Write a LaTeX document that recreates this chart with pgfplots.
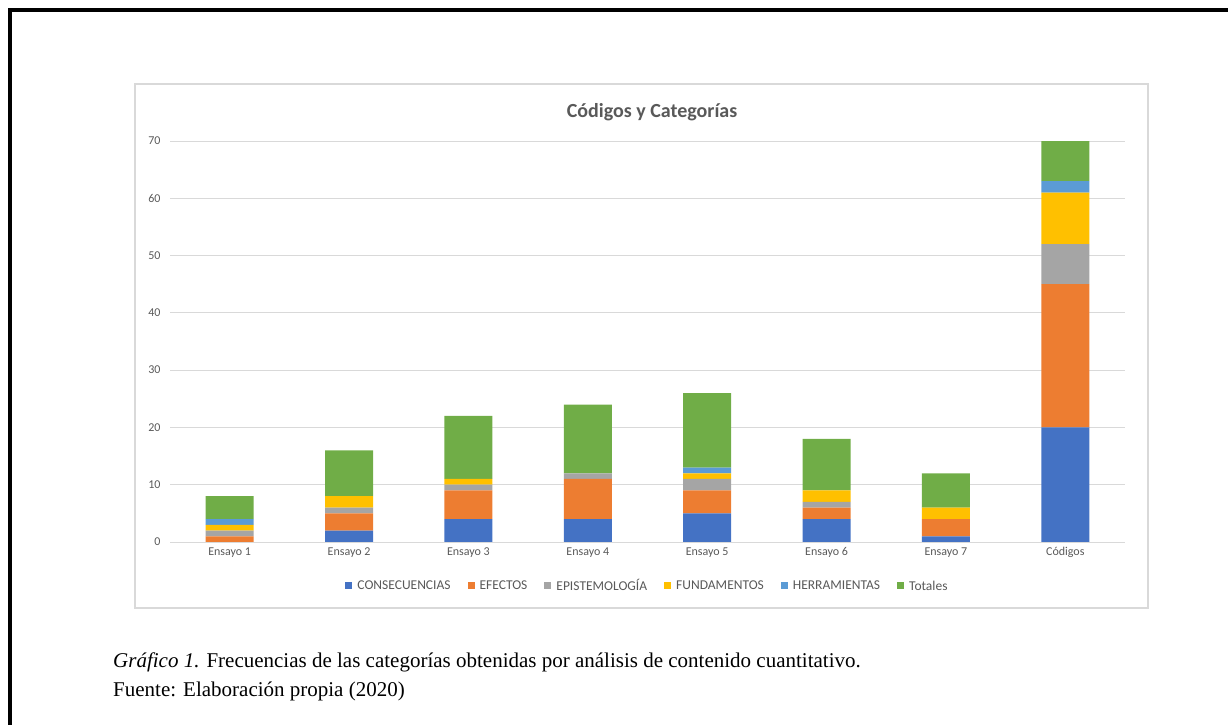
\documentclass[border=0pt]{standalone}
\usepackage{pgfplots}
\pgfplotsset{compat=1.18}
\usepackage{pgfplotstable}
\usepackage{fontspec}
\setmainfont{Carlito}
\newfontfamily\capfont{Liberation Serif}

\definecolor{cCons}{HTML}{4472C4}
\definecolor{cEfec}{HTML}{ED7D31}
\definecolor{cEpis}{HTML}{A5A5A5}
\definecolor{cFund}{HTML}{FFC000}
\definecolor{cHerr}{HTML}{5B9BD5}
\definecolor{cTot}{HTML}{70AD47}
\definecolor{txtgray}{HTML}{595959}
\definecolor{gridgray}{HTML}{D9D9D9}

% valores por categoria (apilados)
\pgfplotstableread{
x cons efec epis fund herr tot
0 0  1  1 1 1 4
1 2  3  1 2 0 8
2 4  5  1 1 0 11
3 4  7  1 0 0 12
4 5  4  2 1 1 13
5 4  2  1 2 0 9
6 1  3  0 2 0 6
7 20 25 7 9 2 7
}\datos

\begin{document}
\begin{tikzpicture}[x=1pt,y=1pt]
\useasboundingbox (0,0) rectangle (1228,725);
\draw[line width=4pt] (10,0) -- (10,715) -- (1228,715);
\draw[gridgray, line width=1.2pt] (135,117) rectangle (1148,641);

\begin{axis}[
	at={(170pt,183pt)}, anchor=south west,
	scale only axis,
	width=955pt, height=401pt,
	ybar stacked,
	bar width=48pt,
	xmin=-0.5, xmax=7.5,
	ymin=0, ymax=70,
	enlargelimits=false,
	xtick={0,...,7},
	xticklabels={Ensayo 1,Ensayo 2,Ensayo 3,Ensayo 4,Ensayo 5,Ensayo 6,Ensayo 7,Códigos},
	ytick={0,10,...,70},
	ymajorgrids=true,
	grid style={gridgray, line width=0.8pt},
	axis x line*=bottom,
	axis y line*=left,
	x axis line style={gridgray, line width=0.8pt, -},
	y axis line style={draw=none},
	major tick length=0pt,
	/pgf/number format/assume math mode=true,
	tick label style={font=\fontsize{12}{14}\selectfont, text=txtgray},
	yticklabel style={xshift=-6pt},
	xticklabel style={yshift=-2pt},
	legend style={
		at={(0.5,-0.11)}, anchor=center,
		draw=none, fill=none,
		legend columns=6,
		font=\fontsize{13.5}{15}\selectfont,
		text=txtgray,
		/tikz/every even column/.append style={column sep=15pt},
		/tikz/every odd column/.append style={column sep=3pt},
	},
	legend image code/.code={\fill[#1] (0pt,-2.5pt) rectangle (7pt,4.5pt);},
]
\addplot[fill=cCons, draw=none] table[x=x, y=cons] {\datos};
\addplot[fill=cEfec, draw=none] table[x=x, y=efec] {\datos};
\addplot[fill=cEpis, draw=none] table[x=x, y=epis] {\datos};
\addplot[fill=cFund, draw=none] table[x=x, y=fund] {\datos};
\addplot[fill=cHerr, draw=none] table[x=x, y=herr] {\datos};
\addplot[fill=cTot, draw=none] table[x=x, y=tot] {\datos};
\legend{CONSECUENCIAS, EFECTOS, EPISTEMOLOGÍA, FUNDAMENTOS, HERRAMIENTAS, Totales}
\end{axis}

\node[font=\fontsize{20}{24}\selectfont\bfseries, text=txtgray] at (652,613) {Códigos y Categorías};

\node[anchor=base west, inner sep=0pt, font=\capfont\fontsize{21}{25}\selectfont] at (113,57)
	{\textit{Gráfico 1.} Frecuencias de las categorías obtenidas por análisis de contenido cuantitativo.};
\node[anchor=base west, inner sep=0pt, font=\capfont\fontsize{21}{25}\selectfont] at (113,28)
	{Fuente: Elaboración propia (2020)};
\end{tikzpicture}
\end{document}
